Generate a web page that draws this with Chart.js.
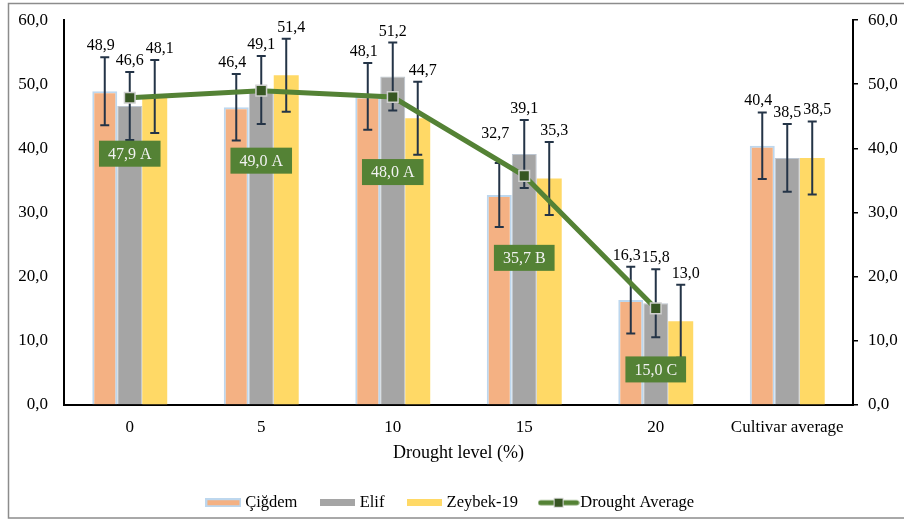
<!DOCTYPE html>
<html>
<head>
<meta charset="utf-8">
<title>Drought level</title>
<script src="https://cdn.jsdelivr.net/npm/chart.js@4.4.0/dist/chart.umd.min.js"></script>
<style>
  body { margin: 0; background: #fff; }
  #wrap { width: 904px; height: 521px; position: relative; }
</style>
</head>
<body>
<div id="wrap"><canvas id="myChart"></canvas></div>
<script>
// values per drought level
let labels = ['0', '5', '10', '15', '20', 'Cultivar average'];
let cigdem = [48.9, 46.4, 48.1, 32.7, 16.3, 40.4];
let elif = [46.6, 49.1, 51.2, 39.1, 15.8, 38.5];
let zeybek = [48.1, 51.4, 44.7, 35.3, 13.0, 38.5];
let cigdemErr = [5.3, 5.2, 5.2, 5.0, 5.2, 5.2];
let elifErr = [5.3, 5.3, 5.3, 5.3, 5.3, 5.3];
let zeybekErr = [5.7, 5.7, 5.7, 5.7, 5.7, 5.7];
let droughtAvg = [47.9, 49.0, 48.0, 35.7, 15.0, null];
let droughtGroup = ['A', 'A', 'A', 'B', 'C'];
let yTicks = [0, 10, 20, 30, 40, 50, 60];

const serif = '"Liberation Serif", "Times New Roman", serif';
Chart.defaults.font.family = serif;
Chart.defaults.color = '#000';

const fmt = (v) => v.toFixed(1).replace('.', ',');

// how far below each average point its green label sits
const labelDrop = [56, 70, 75, 82, 61];
// value labels spread sideways a little so neighbours don't collide
const labelNudge = [-4, 0, 5];
// the 32,7 label is lifted above the average line
const labelLift = { '0-3': 18 };

const barSets = [
  { values: cigdem, err: cigdemErr },
  { values: elif, err: elifErr },
  { values: zeybek, err: zeybekErr }
];

// legend icons
function swatch(w, h, fill, stroke) {
  const c = document.createElement('canvas');
  c.width = w; c.height = h;
  const g = c.getContext('2d');
  g.fillStyle = fill;
  g.fillRect(0, 0, w, h);
  if (stroke) {
    g.strokeStyle = stroke;
    g.lineWidth = 2;
    g.strokeRect(1, 1, w - 2, h - 2);
  }
  return c;
}
function lineSwatch() {
  const c = document.createElement('canvas');
  c.width = 42; c.height = 12;
  const g = c.getContext('2d');
  g.strokeStyle = '#548235';
  g.lineWidth = 5;
  g.lineCap = 'round';
  g.beginPath(); g.moveTo(3, 6); g.lineTo(39, 6); g.stroke();
  g.fillStyle = '#375623';
  g.strokeStyle = '#D9D9D9';
  g.lineWidth = 1;
  g.fillRect(16.5, 1.5, 9, 9);
  g.strokeRect(16.5, 1.5, 9, 9);
  return c;
}
const legendIcons = [
  swatch(36, 9, '#F4B183', '#BDD7EE'),
  swatch(35, 7, '#A5A5A5'),
  swatch(35, 7, '#FFD966'),
  lineSwatch()
];

// white background + outer frame
const frame = {
  id: 'frame',
  beforeDraw(chart) {
    const ctx = chart.ctx;
    ctx.save();
    ctx.fillStyle = '#fff';
    ctx.fillRect(0, 0, chart.width, chart.height);
    ctx.strokeStyle = '#8c8c8c';
    ctx.lineWidth = 1.5;
    ctx.strokeRect(8.5, 3.5, chart.width + 10, 514.5);
    ctx.restore();
  }
};

// error bars and value labels, drawn before the average line
const errorBars = {
  id: 'errorBars',
  beforeDatasetDraw(chart, args) {
    if (args.index !== 3) return;
    const ctx = chart.ctx;
    const y = chart.scales.y;
    ctx.save();
    barSets.forEach((set, i) => {
      chart.getDatasetMeta(i).data.forEach((bar, j) => {
        const v = set.values[j];
        const top = y.getPixelForValue(v + set.err[j]);
        const bot = y.getPixelForValue(v - set.err[j]);
        ctx.strokeStyle = '#243447';
        ctx.lineWidth = 2;
        ctx.beginPath();
        ctx.moveTo(bar.x, top); ctx.lineTo(bar.x, bot);
        ctx.moveTo(bar.x - 4.5, top); ctx.lineTo(bar.x + 4.5, top);
        ctx.moveTo(bar.x - 4.5, bot); ctx.lineTo(bar.x + 4.5, bot);
        ctx.stroke();
        ctx.fillStyle = '#000';
        ctx.font = '16px ' + serif;
        ctx.textAlign = 'center';
        ctx.textBaseline = 'alphabetic';
        const lift = labelLift[i + '-' + j] || 0;
        ctx.fillText(fmt(v), bar.x + labelNudge[i], top - 7 - lift);
      });
    });
    ctx.restore();
  }
};

// green boxes with the drought average and its group letter
const groupLabels = {
  id: 'groupLabels',
  afterDatasetsDraw(chart) {
    const ctx = chart.ctx;
    const meta = chart.getDatasetMeta(3);
    ctx.save();
    ctx.font = '16px ' + serif;
    ctx.textAlign = 'center';
    ctx.textBaseline = 'middle';
    meta.data.forEach((pt, j) => {
      if (droughtAvg[j] == null) return;
      const txt = fmt(droughtAvg[j]) + ' ' + droughtGroup[j];
      const w = ctx.measureText(txt).width + 18;
      const h = 26;
      const cy = pt.y + labelDrop[j];
      ctx.fillStyle = '#548235';
      ctx.fillRect(pt.x - w / 2, cy - h / 2, w, h);
      ctx.fillStyle = '#F2F2F2';
      ctx.fillText(txt, pt.x, cy + 1);
    });
    ctx.restore();
  }
};

let ctx = document.getElementById('myChart').getContext('2d');

let myChart = new Chart(ctx, {
  type: 'bar',
  data: {
    labels: labels,
    datasets: [
      {
        label: 'Çiğdem',
        data: cigdem,
        backgroundColor: '#F4B183',
        borderColor: '#BDD7EE',
        borderWidth: 2,
        order: 1
      },
      {
        label: 'Elif',
        data: elif,
        backgroundColor: '#A5A5A5',
        borderColor: '#BCC5D0',
        borderWidth: 1,
        order: 1
      },
      {
        label: 'Zeybek-19',
        data: zeybek,
        backgroundColor: '#FFD966',
        borderWidth: 0,
        order: 1
      },
      {
        type: 'line',
        label: 'Drought Average',
        data: droughtAvg,
        borderColor: '#548235',
        borderWidth: 5,
        pointStyle: 'rect',
        pointRadius: 7.5,
        pointBackgroundColor: '#375623',
        pointBorderColor: '#D0D0D0',
        pointBorderWidth: 1.5,
        tension: 0,
        order: 0
      }
    ]
  },
  options: {
    responsive: true,
    maintainAspectRatio: false,
    animation: false,
    layout: { padding: { top: 17, left: 0, right: 0, bottom: 0 } },
    datasets: {
      bar: { categoryPercentage: 0.57, barPercentage: 1 }
    },
    scales: {
      x: {
        grid: { display: false, drawTicks: false },
        border: { color: '#000', width: 2 },
        ticks: { padding: 13, font: { size: 17 } },
        title: {
          display: true,
          text: 'Drought level (%)',
          font: { size: 18 },
          padding: { top: 0, bottom: 3 }
        },
        afterFit: (s) => { s.height = 63; }
      },
      y: {
        position: 'left',
        min: 0,
        max: 60,
        // no tick marks drawn, the tick length only spaces the labels
        grid: { display: false, drawTicks: true, tickLength: 14 },
        border: { color: '#000', width: 2 },
        ticks: { padding: 2, font: { size: 17 }, callback: (v) => fmt(v) },
        afterBuildTicks: (s) => { s.ticks = yTicks.map((v) => ({ value: v })); },
        afterFit: (s) => { s.width = 64; }
      },
      y2: {
        position: 'right',
        min: 0,
        max: 60,
        grid: { display: true, drawOnChartArea: false, drawTicks: true, tickLength: 5, color: '#000', lineWidth: 1.5 },
        border: { color: '#000', width: 2 },
        ticks: { padding: 10, font: { size: 17 }, callback: (v) => fmt(v) },
        afterBuildTicks: (s) => { s.ticks = yTicks.map((v) => ({ value: v })); },
        afterFit: (s) => { s.width = 51; }
      }
    },
    plugins: {
      tooltip: { enabled: false },
      legend: {
        position: 'bottom',
        labels: {
          usePointStyle: true,
          pointStyleWidth: 27,
          boxHeight: 9,
          padding: 27,
          font: { size: 16.5 },
          sort: (a, b) => a.datasetIndex - b.datasetIndex,
          generateLabels: (chart) => {
            const items = Chart.defaults.plugins.legend.labels.generateLabels(chart);
            items.forEach((it) => { it.pointStyle = legendIcons[it.datasetIndex]; });
            return items;
          }
        }
      }
    }
  },
  plugins: [frame, errorBars, groupLabels]
});
</script>
</body>
</html>
